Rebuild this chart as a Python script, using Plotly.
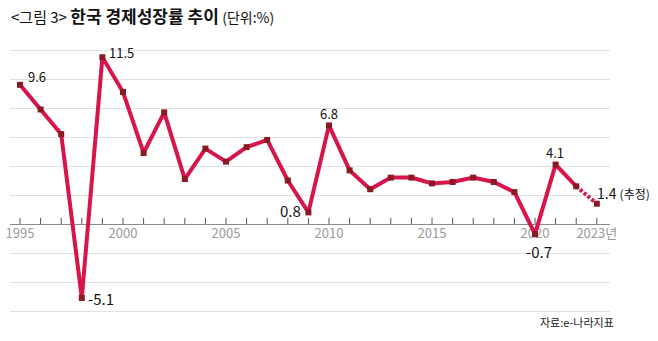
import plotly.graph_objects as go

# Korea real GDP growth rate (%), 1995-2023 (2023 is an estimate)
years = list(range(1995, 2024))
growth = [9.6, 7.9, 6.2, -5.1, 11.5, 9.1, 4.9, 7.7, 3.1, 5.2,
          4.3, 5.3, 5.8, 3.0, 0.8, 6.8, 3.7, 2.4, 3.2, 3.2,
          2.8, 2.9, 3.2, 2.9, 2.2, -0.7, 4.1, 2.6, 1.4]

tick_years = [1995, 2000, 2005, 2010, 2015, 2020, 2023]
tick_labels = ["1995", "2000", "2005", "2010", "2015", "2020", "2023년"]

# labelled points: year -> (text, xanchor, xshift, yshift, font size)
labelled = {
    1995: ("9.6", "left", 6, 8, 13),
    1999: ("11.5", "left", 5, 5, 13),
    1998: ("-5.1", "left", 4, -1, 15),
    2009: ("0.8", "right", -5, 2, 15),
    2010: ("6.8", "center", 0, 12, 13),
    2021: ("4.1", "center", -1, 12, 13),
    2020: ("-0.7", "center", 4, -17, 15),
}

LINE = "#d7154b"
MARK = "#8a1a22"
FONT = "Noto Sans CJK KR"

fig = go.Figure()

# year labels under the zero line (drawn first so the line passes over them)
fig.add_trace(go.Scatter(
    x=tick_years, y=[-0.3] * len(tick_years), mode="text",
    text=tick_labels, textposition="bottom center",
    textfont=dict(family=FONT, size=13, color="#9a9a9a"),
    cliponaxis=False, hoverinfo="skip", showlegend=False,
))

# small upward ticks at every year on the zero line
tx, ty = [], []
for yr in years:
    tx += [yr, yr, None]
    ty += [0, 0.42, None]
fig.add_trace(go.Scatter(
    x=tx, y=ty, mode="lines", line=dict(color="#555555", width=1),
    hoverinfo="skip", showlegend=False,
))

# solid line through 2022, dashed to the 2023 estimate
fig.add_trace(go.Scatter(
    x=years[:-1], y=growth[:-1], mode="lines",
    line=dict(color=LINE, width=4), showlegend=False,
))
fig.add_trace(go.Scatter(
    x=years[-2:], y=growth[-2:], mode="lines",
    line=dict(color=LINE, width=4, dash="3px,2px"), showlegend=False,
))
fig.add_trace(go.Scatter(
    x=years, y=growth, mode="markers",
    marker=dict(symbol="square", size=6, color=MARK),
    cliponaxis=False, showlegend=False,
))

for yr, (txt, xa, xs, ys, fs) in labelled.items():
    fig.add_annotation(
        x=yr, y=growth[years.index(yr)], xref="x", yref="y", text=txt,
        showarrow=False, xanchor=xa, yanchor="middle", xshift=xs, yshift=ys,
        font=dict(family=FONT, size=fs, color="#111111"),
    )

fig.add_annotation(
    x=2023, y=growth[-1], xref="x", yref="y",
    text="1.4 <span style='font-size:12px'>(추정)</span>",
    showarrow=False, xanchor="left", yanchor="middle", xshift=-2, yshift=11,
    font=dict(family=FONT, size=14, color="#111111"),
)

# title
fig.add_annotation(
    x=0, y=1, xref="paper", yref="paper", xanchor="left", yanchor="top",
    text=("&lt;그림 3&gt; <span style='font-size:17px'><b>한국 경제성장률 추이</b></span>"
          " <span style='font-size:14px'>(단위:%)</span>"),
    showarrow=False, xshift=-1, yshift=39,
    font=dict(family=FONT, size=15, color="#111111"),
)

# source
fig.add_annotation(
    x=1, y=0, xref="paper", yref="paper", xanchor="right", yanchor="middle",
    text="자료:e-나라지표", showarrow=False, xshift=6, yshift=-2,
    font=dict(family=FONT, size=11, color="#222222"),
)

fig.update_layout(
    width=658, height=341,
    margin=dict(l=10, r=48, t=40, b=21),
    paper_bgcolor="white", plot_bgcolor="white",
    xaxis=dict(range=[1994.515, 2023.64], showgrid=False, zeroline=False,
               showticklabels=False, ticks="", showline=False, fixedrange=True),
    yaxis=dict(range=[-6.62, 12.69], tick0=0, dtick=2, showgrid=True,
               gridcolor="#e2e2e2", gridwidth=1, zeroline=True,
               zerolinecolor="#8a8a8a", zerolinewidth=1,
               showticklabels=False, ticks="", showline=False, fixedrange=True),
    showlegend=False,
)

fig.write_html("out.html")
